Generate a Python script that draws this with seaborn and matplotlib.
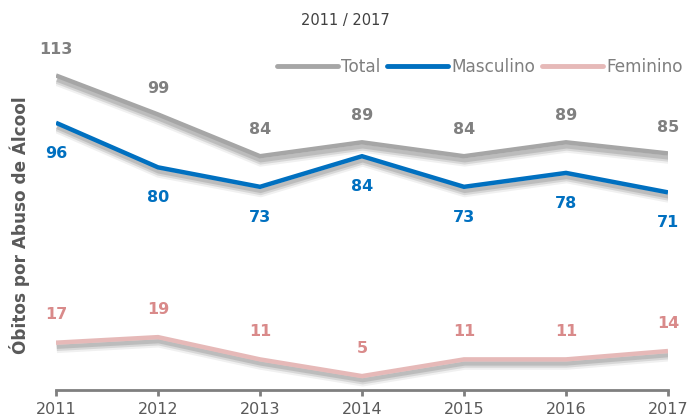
import matplotlib
matplotlib.use("Agg")
import matplotlib.pyplot as plt
import matplotlib.patheffects as pe
import pandas as pd
import seaborn as sns

years = [2011, 2012, 2013, 2014, 2015, 2016, 2017]
total = [113, 99, 84, 89, 84, 89, 85]
masculino = [96, 80, 73, 84, 73, 78, 71]
feminino = [17, 19, 11, 5, 11, 11, 14]
series_names = ["Total", "Masculino", "Feminino"]
line_colors = ["#A6A6A6", "#0070C0", "#E6B9B8"]
label_colors = ["#808080", "#0070C0", "#D98A8A"]
label_offsets = [19, -22, 20]  # points: above / below / above

sns.set_theme(style="white")
plt.rcParams["font.family"] = ["DejaVu Sans"]

df = pd.DataFrame({
    "Ano": years * 3,
    "Valor": total + masculino + feminino,
    "Série": [s for s in series_names for _ in years],
})

fig = plt.figure(figsize=(6.89, 4.20), dpi=100)
ax = fig.add_axes([56 / 689, 30 / 420, (668 - 56) / 689, (390 - 56) / 420])

sns.lineplot(data=df, x="Ano", y="Valor", hue="Série", hue_order=series_names,
             palette=line_colors, linewidth=3.2, ax=ax, legend=False,
             solid_capstyle="butt", solid_joinstyle="miter")

# soft drop shadow under each line
shadow = [
    pe.SimpleLineShadow(offset=(0.5, -4.0), shadow_color="#000000", alpha=0.06, linewidth=7),
    pe.SimpleLineShadow(offset=(0.5, -3.5), shadow_color="#000000", alpha=0.10, linewidth=5),
    pe.SimpleLineShadow(offset=(0.5, -3.0), shadow_color="#000000", alpha=0.12, linewidth=3),
    pe.Normal(),
]
for line in ax.lines:
    line.set_path_effects(shadow)

# value labels
for vals, col, off in zip([total, masculino, feminino], label_colors, label_offsets):
    for x, v in zip(years, vals):
        ax.annotate(str(v), (x, v), xytext=(0, off), textcoords="offset points",
                    ha="center", va="center", fontsize=11.5, fontweight="bold",
                    color=col, annotation_clip=False)

ax.set_xlim(2011, 2017)
ax.set_ylim(0, 120)
ax.set_xticks(years)
ax.set_xticklabels([str(y) for y in years])
ax.set_yticks([])
ax.set_xlabel("")
ax.set_ylabel("")

for s in ["top", "right", "left"]:
    ax.spines[s].set_visible(False)
ax.spines["bottom"].set_color("#7F7F7F")
ax.spines["bottom"].set_linewidth(2.0)
ax.tick_params(axis="x", direction="out", length=4, width=2, color="#7F7F7F",
               labelsize=11.5, labelcolor="#595959", pad=5, bottom=True)

fig.text(20 / 689, 1 - 225 / 420, "Óbitos por Abuso de Álcool", rotation=90,
         ha="center", va="center", fontsize=12.2, fontweight="bold", color="#595959")
fig.text(345 / 689, 1 - 20 / 420, "2011 / 2017", ha="center", va="center",
         fontsize=10.5, color="#404040")

handles = [plt.Line2D([], [], color=c, linewidth=3.5) for c in line_colors]
leg = fig.legend(handles, series_names, loc="center right",
                 bbox_to_anchor=(683 / 689, 1 - 67 / 420), ncol=3, frameon=False,
                 borderpad=0, borderaxespad=0,
                 handlelength=3.6, handletextpad=0.2, columnspacing=0.4,
                 fontsize=12.2)
for t in leg.get_texts():
    t.set_color("#7F7F7F")

fig.savefig("out.png", dpi=100)
